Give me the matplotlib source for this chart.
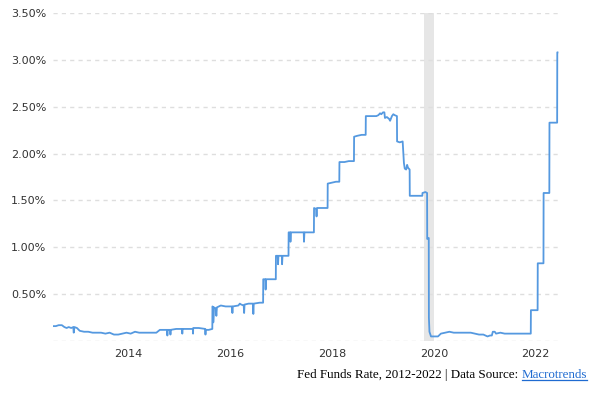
import numpy as np
import pandas as pd
import matplotlib
matplotlib.use('Agg')
import matplotlib.pyplot as plt
from matplotlib.lines import Line2D

# effective fed funds rate (%)
dates = [
    '2012-10-29', '2012-11-20', '2012-12-10', '2013-01-02', '2013-01-20', '2013-02-05',
    '2013-02-20', '2013-03-10', '2013-03-25', '2013-03-28', '2013-04-02', '2013-04-20',
    '2013-05-10', '2013-06-10', '2013-07-10', '2013-08-10', '2013-09-10', '2013-10-10',
    '2013-11-10', '2013-12-10', '2014-01-10', '2014-02-10', '2014-03-10', '2014-04-10',
    '2014-05-10', '2014-06-10', '2014-07-10', '2014-08-10', '2014-09-10', '2014-10-10',
    '2014-11-10', '2014-12-05', '2015-01-10', '2015-01-27', '2015-01-28', '2015-01-29',
    '2015-02-18', '2015-02-19', '2015-02-20', '2015-04-01', '2015-05-14', '2015-05-15',
    '2015-05-16', '2015-07-01', '2015-07-30', '2015-07-31', '2015-08-01', '2015-09-10',
    '2015-10-27', '2015-10-28', '2015-10-29', '2015-11-20', '2015-12-16', '2015-12-17',
    '2015-12-22', '2015-12-23', '2015-12-28', '2016-01-10', '2016-01-14', '2016-01-18',
    '2016-02-15', '2016-03-20', '2016-05-05', '2016-05-08', '2016-05-11', '2016-06-20',
    '2016-06-30', '2016-07-10', '2016-07-28', '2016-07-31', '2016-08-03', '2016-09-01',
    '2016-10-02', '2016-10-05', '2016-10-08', '2016-11-20', '2016-12-14', '2016-12-15',
    '2016-12-29', '2017-01-01', '2017-01-04', '2017-03-15', '2017-03-16', '2017-03-29',
    '2017-03-31', '2017-04-03', '2017-04-27', '2017-04-29', '2017-05-02', '2017-06-14',
    '2017-06-15', '2017-06-26', '2017-06-28', '2017-07-01', '2017-10-01', '2017-10-03',
    '2017-10-06', '2017-12-13', '2017-12-14', '2017-12-29', '2018-01-01', '2018-01-04',
    '2018-03-21', '2018-03-22', '2018-04-20', '2018-05-20', '2018-06-13', '2018-06-14',
    '2018-07-20', '2018-08-20', '2018-09-26', '2018-09-27', '2018-10-20', '2018-11-20',
    '2018-12-19', '2018-12-20', '2019-02-01', '2019-03-05', '2019-03-20', '2019-04-01',
    '2019-04-10', '2019-04-22', '2019-05-02', '2019-05-06', '2019-05-20', '2019-06-05',
    '2019-06-12', '2019-06-25', '2019-07-05', '2019-07-15', '2019-07-31', '2019-08-01',
    '2019-08-20', '2019-09-10', '2019-09-19', '2019-09-25', '2019-10-05', '2019-10-12',
    '2019-10-18', '2019-10-30', '2019-10-31', '2019-12-01', '2019-12-31', '2020-01-29',
    '2020-01-30', '2020-02-20', '2020-03-03', '2020-03-04', '2020-03-15', '2020-03-16',
    '2020-03-20', '2020-03-31', '2020-04-20', '2020-05-20', '2020-06-10', '2020-07-10',
    '2020-08-10', '2020-09-10', '2020-10-10', '2020-11-10', '2020-12-10', '2021-01-10',
    '2021-02-10', '2021-03-10', '2021-04-10', '2021-05-10', '2021-05-28', '2021-06-10',
    '2021-06-17', '2021-07-01', '2021-07-10', '2021-08-10', '2021-09-10', '2021-10-10',
    '2021-11-10', '2021-12-10', '2022-01-10', '2022-02-10', '2022-03-16', '2022-03-17',
    '2022-05-04', '2022-05-05', '2022-06-15', '2022-06-16', '2022-07-27', '2022-07-28',
    '2022-09-21', '2022-09-22', '2022-09-23',
]
rates = [
    0.16, 0.16, 0.17, 0.17, 0.15, 0.14,
    0.15, 0.14, 0.15, 0.09, 0.15, 0.14,
    0.11, 0.10, 0.10, 0.09, 0.09, 0.09,
    0.08, 0.09, 0.07, 0.07, 0.08, 0.09,
    0.08, 0.10, 0.09, 0.09, 0.09, 0.09,
    0.09, 0.12, 0.12, 0.12, 0.06, 0.12,
    0.12, 0.07, 0.12, 0.13, 0.13, 0.08,
    0.13, 0.13, 0.13, 0.08, 0.14, 0.14,
    0.13, 0.07, 0.12, 0.12, 0.13, 0.37,
    0.36, 0.20, 0.36, 0.35, 0.27, 0.36,
    0.38, 0.37, 0.37, 0.30, 0.37, 0.38,
    0.40, 0.39, 0.38, 0.30, 0.39, 0.40,
    0.40, 0.29, 0.40, 0.41, 0.41, 0.66,
    0.66, 0.55, 0.66, 0.66, 0.91, 0.91,
    0.82, 0.91, 0.91, 0.82, 0.91, 0.91,
    1.16, 1.16, 1.06, 1.16, 1.16, 1.06,
    1.16, 1.16, 1.42, 1.41, 1.33, 1.42,
    1.42, 1.68, 1.69, 1.70, 1.70, 1.91,
    1.91, 1.92, 1.92, 2.18, 2.19, 2.20,
    2.20, 2.40, 2.40, 2.40, 2.41, 2.43,
    2.42, 2.44, 2.44, 2.38, 2.39, 2.37,
    2.35, 2.40, 2.42, 2.41, 2.40, 2.13,
    2.12, 2.13, 1.90, 1.84, 1.83, 1.88,
    1.85, 1.83, 1.55, 1.55, 1.55, 1.55,
    1.58, 1.59, 1.58, 1.09, 1.10, 0.25,
    0.10, 0.05, 0.05, 0.05, 0.08, 0.09,
    0.10, 0.09, 0.09, 0.09, 0.09, 0.09,
    0.08, 0.07, 0.07, 0.05, 0.06, 0.06,
    0.10, 0.10, 0.08, 0.09, 0.08, 0.08,
    0.08, 0.08, 0.08, 0.08, 0.08, 0.33,
    0.33, 0.83, 0.83, 1.58, 1.58, 2.33,
    2.33, 3.08, 3.08,
]
recession = ['2020-02-10', '2020-04-20']
years = [2014, 2016, 2018, 2020, 2022]
yvals = [0, 0.5, 1.0, 1.5, 2.0, 2.5, 3.0, 3.5]

x = pd.to_datetime(dates)

fig = plt.figure(figsize=(6, 3.93), dpi=100)
ax = fig.add_axes([0.088, 0.132, 0.845, 0.835])

ax.axvspan(pd.Timestamp(recession[0]), pd.Timestamp(recession[1]), color='#e6e6e6', lw=0, zorder=1)
ax.plot(x, rates, color='#5599e0', lw=1.3, zorder=3)

ax.set_xlim(x[0], pd.Timestamp('2022-10-10'))
ax.set_ylim(0, 3.5)
ax.set_yticks(yvals)
ax.set_yticklabels(['' if v == 0 else '%.2f%%' % v for v in yvals])
ax.set_xticks([pd.Timestamp('%d-04-20' % y) for y in years])
ax.set_xticklabels([str(y) for y in years])
ax.grid(axis='y', color='#dedede', lw=1, dashes=(3, 3), zorder=0)
ax.grid(axis='x', visible=False)
for s in ax.spines.values():
    s.set_visible(False)
ax.tick_params(length=0, labelsize=8, labelcolor='#333333')
ax.tick_params(axis='y', pad=4.5)
ax.tick_params(axis='x', pad=6)

# footer: black text + underlined blue link
renderer = fig.canvas.get_renderer()
link = fig.text(587 / 600, 1 - 378 / 393, 'Macrotrends', ha='right', va='baseline',
                color='#1f6bd1', fontsize=9.4, family='Liberation Serif')
bb = link.get_window_extent(renderer)
fig.text(bb.x0 / 600, 1 - 378 / 393, 'Fed Funds Rate, 2012-2022 | Data Source: ', ha='right',
         va='baseline', color='black', fontsize=9.4, family='Liberation Serif')
uy = 1 - 380 / 393
fig.add_artist(Line2D([bb.x0 / 600, bb.x1 / 600], [uy, uy], color='#1f6bd1', lw=0.9,
                      transform=fig.transFigure))

fig.savefig('out.png', dpi=100)
